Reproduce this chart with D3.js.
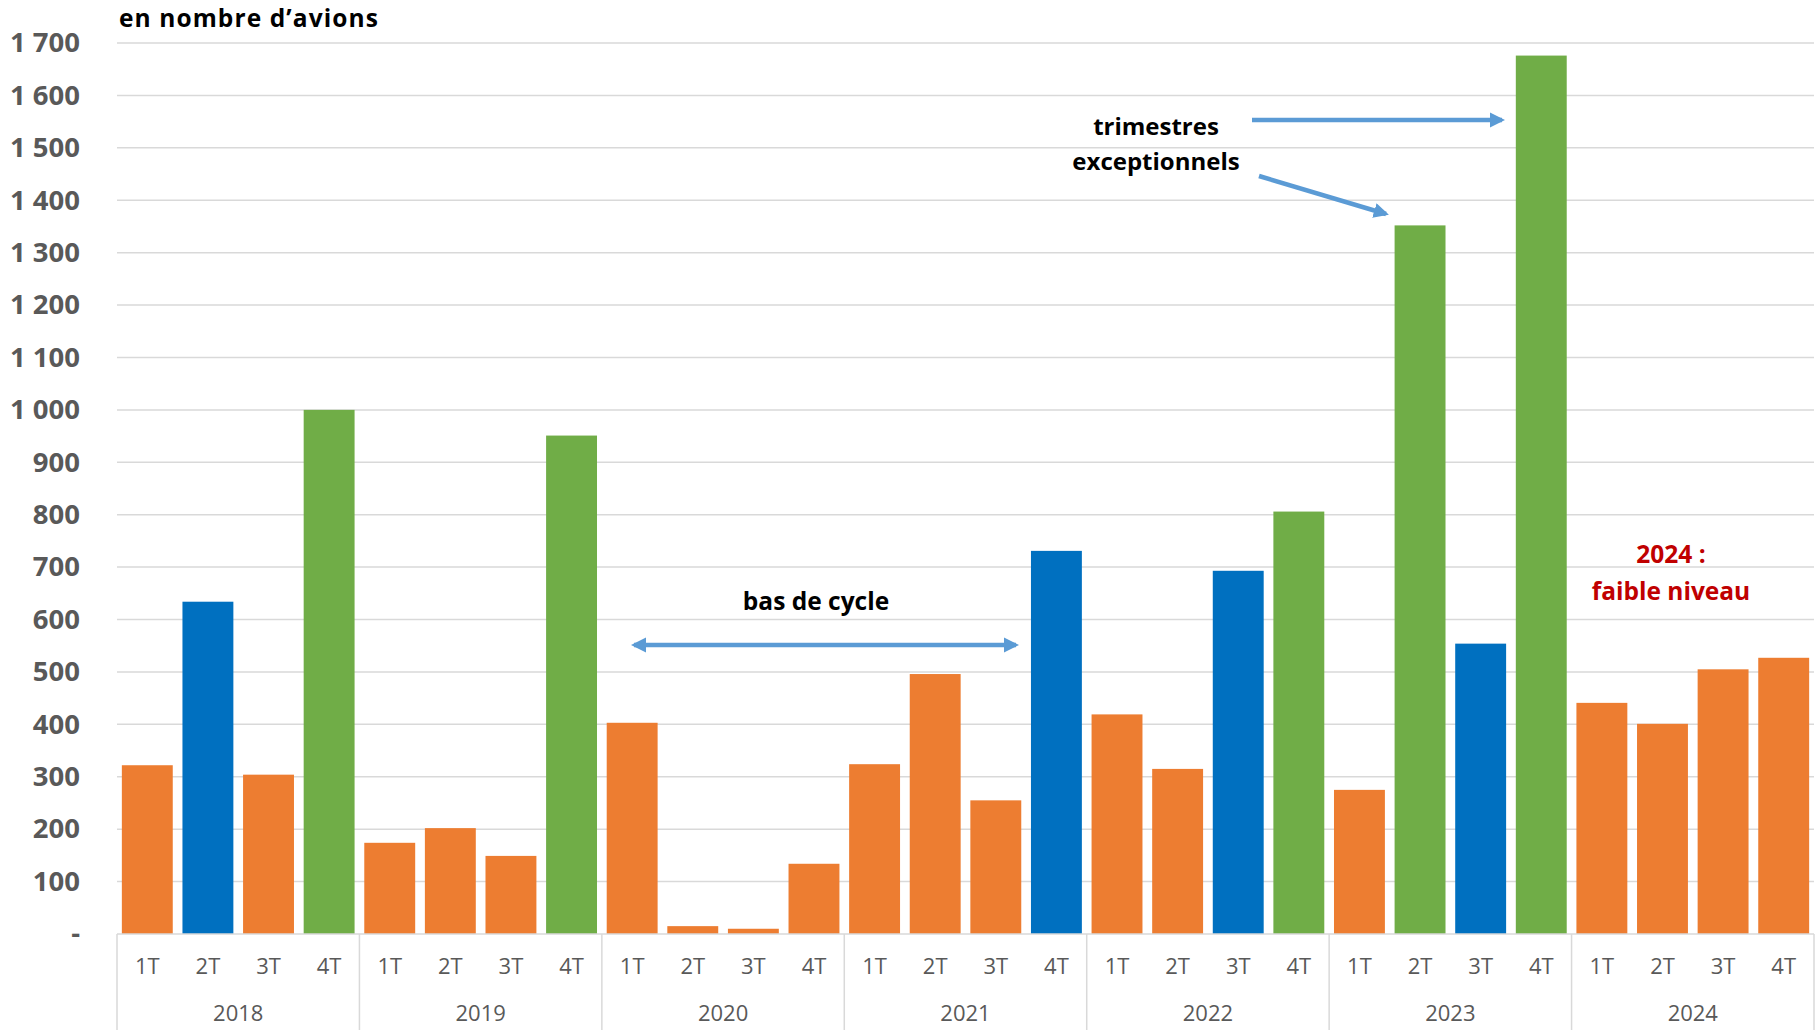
<!DOCTYPE html>
<html>
<head>
<meta charset="utf-8">
<script src="https://cdn.jsdelivr.net/npm/d3@7"></script>
<style>
  body { margin: 0; background: #fff; }
  svg { display: block; font-family: "Open Sans", sans-serif; }
</style>
</head>
<body>
<div id="chart"></div>
<script>
// données : livraisons trimestrielles, en nombre d'avions
let annees = ["2018", "2019", "2020", "2021", "2022", "2023", "2024"];
let trimestres = ["1T", "2T", "3T", "4T"];
let valeurs = [
  322, 634, 304, 1000,
  174, 202, 149, 951,
  403, 15, 10, 134,
  324, 496, 255, 731,
  419, 315, 693, 806,
  275, 1352, 554, 1676,
  441, 401, 505, 527
];
// niveau du trimestre : n = normal, f = fort, e = exceptionnel
let niveaux = [
  "n", "f", "n", "e",
  "n", "n", "n", "e",
  "n", "n", "n", "n",
  "n", "n", "n", "f",
  "n", "n", "f", "e",
  "n", "e", "f", "e",
  "n", "n", "n", "n"
];
let yTicks = [0, 100, 200, 300, 400, 500, 600, 700, 800, 900, 1000, 1100, 1200, 1300, 1400, 1500, 1600, 1700];

let width = 1818;
let height = 1030;
let padding = { left: 117, right: 4, top: 43, bottom: 96 };

let data = [];
annees.forEach((a, i) => {
  trimestres.forEach((t, j) => {
    data.push({ key: a + "-" + t, annee: a, trim: t, v: valeurs[i * 4 + j], niveau: niveaux[i * 4 + j] });
  });
});

let svg = d3.select('#chart').append('svg')
  .attr('width', width).attr('height', height);

let xScale = d3.scaleBand()
  .domain(data.map(d => d.key))
  .range([padding.left, width - padding.right])
  .paddingInner(0.16)
  .paddingOuter(0.08);

let yearScale = d3.scaleBand()
  .domain(annees)
  .range([padding.left, width - padding.right]);

let yScale = d3.scaleLinear()
  .domain([0, 1700])
  .range([height - padding.bottom, padding.top]);

let color = d3.scaleOrdinal()
  .domain(["n", "f", "e"])
  .range(["#ED7D31", "#0070C0", "#70AD47"]);

let fr = d3.formatLocale({ decimal: ",", thousands: " ", grouping: [3], currency: ["", " €"] });
let fmt = fr.format(",d");

let baseY = yScale(0);

// grille
svg.append('g')
  .selectAll('line')
  .data(yTicks.filter(t => t > 0))
  .enter()
  .append('line')
  .attr('x1', padding.left)
  .attr('x2', width - padding.right)
  .attr('y1', d => yScale(d))
  .attr('y2', d => yScale(d))
  .attr('stroke', '#D9D9D9')
  .attr('stroke-width', 1.5);

// axe y
let yAxis = d3.axisLeft(yScale)
  .tickValues(yTicks)
  .tickSize(0)
  .tickPadding(37)
  .tickFormat(d => d === 0 ? "-" : fmt(d));

let gy = svg.append('g')
  .attr('transform', 'translate(' + padding.left + ',0)')
  .call(yAxis);
gy.select('.domain').remove();
gy.selectAll('text')
  .attr('font-family', '"Open Sans", sans-serif')
  .attr('font-size', 27.5)
  .attr('font-weight', 'bold')
  .attr('fill', '#595959');

// barres
svg.append('g')
  .selectAll('rect')
  .data(data)
  .enter()
  .append('rect')
  .attr('x', d => xScale(d.key))
  .attr('width', xScale.bandwidth())
  .attr('y', d => yScale(d.v))
  .attr('height', d => baseY - yScale(d.v))
  .attr('fill', d => color(d.niveau));

// axe x : trimestres
let xAxis = d3.axisBottom(xScale)
  .tickSize(0)
  .tickPadding(24)
  .tickFormat(k => k.split("-")[1]);
let gx = svg.append('g')
  .attr('transform', 'translate(0,' + baseY + ')')
  .call(xAxis);
gx.select('.domain').remove();
gx.selectAll('text')
  .attr('font-family', '"Open Sans", sans-serif')
  .attr('font-size', 22)
  .attr('fill', '#595959');

// axe x : années
let yearAxis = d3.axisBottom(yearScale)
  .tickSize(0)
  .tickPadding(71);
let ga = svg.append('g')
  .attr('transform', 'translate(0,' + baseY + ')')
  .call(yearAxis);
ga.select('.domain').remove();
ga.selectAll('text')
  .attr('font-family', '"Open Sans", sans-serif')
  .attr('font-size', 22)
  .attr('fill', '#595959');

// ligne de base et séparateurs
svg.append('line')
  .attr('x1', padding.left).attr('x2', width - padding.right)
  .attr('y1', baseY).attr('y2', baseY)
  .attr('stroke', '#D9D9D9').attr('stroke-width', 1.5);

let seps = annees.map(a => yearScale(a)).concat([yearScale.range()[1]]);
svg.append('g')
  .selectAll('line')
  .data(seps)
  .enter()
  .append('line')
  .attr('x1', d => d).attr('x2', d => d)
  .attr('y1', baseY).attr('y2', height)
  .attr('stroke', '#D9D9D9').attr('stroke-width', 1.5);

// titre de l'axe
svg.append('text')
  .attr('x', 119).attr('y', 26.5)
  .attr('font-size', 24.5)
  .attr('font-weight', 'bold')
  .attr('letter-spacing', 1.1)
  .attr('fill', '#000')
  .text('en nombre d\u2019avions');

// annotations
let defs = svg.append('defs');
defs.append('marker')
  .attr('id', 'head')
  .attr('viewBox', '0 0 10 10')
  .attr('refX', 8).attr('refY', 5)
  .attr('markerWidth', 3.3).attr('markerHeight', 3.3)
  .attr('orient', 'auto-start-reverse')
  .append('path')
  .attr('d', 'M0,0 L10,5 L0,10 Z')
  .attr('fill', '#5B9BD5');

function fleche(x1, y1, x2, y2, double) {
  let l = svg.append('line')
    .attr('x1', x1).attr('y1', y1).attr('x2', x2).attr('y2', y2)
    .attr('stroke', '#5B9BD5').attr('stroke-width', 4.6)
    .attr('marker-end', 'url(#head)');
  if (double) l.attr('marker-start', 'url(#head)');
}

// bas de cycle
svg.append('text')
  .attr('x', 816).attr('y', 610)
  .attr('text-anchor', 'middle')
  .attr('font-size', 24.5).attr('font-weight', 'bold')
  .text('bas de cycle');
fleche(634, 645, 1016, 645, true);

// trimestres exceptionnels
svg.append('text')
  .attr('x', 1156).attr('y', 135)
  .attr('text-anchor', 'middle')
  .attr('font-size', 24).attr('font-weight', 'bold')
  .text('trimestres');
svg.append('text')
  .attr('x', 1156).attr('y', 170)
  .attr('text-anchor', 'middle')
  .attr('font-size', 24).attr('font-weight', 'bold')
  .text('exceptionnels');
fleche(1252, 120, 1502, 120, false);
fleche(1259, 176, 1386, 214, false);

// 2024
svg.append('text')
  .attr('x', 1671).attr('y', 563)
  .attr('text-anchor', 'middle')
  .attr('font-size', 24.5).attr('font-weight', 'bold')
  .attr('fill', '#C00000')
  .text('2024 :');
svg.append('text')
  .attr('x', 1671).attr('y', 600)
  .attr('text-anchor', 'middle')
  .attr('font-size', 24.5).attr('font-weight', 'bold')
  .attr('fill', '#C00000')
  .text('faible niveau');
</script>
</body>
</html>
